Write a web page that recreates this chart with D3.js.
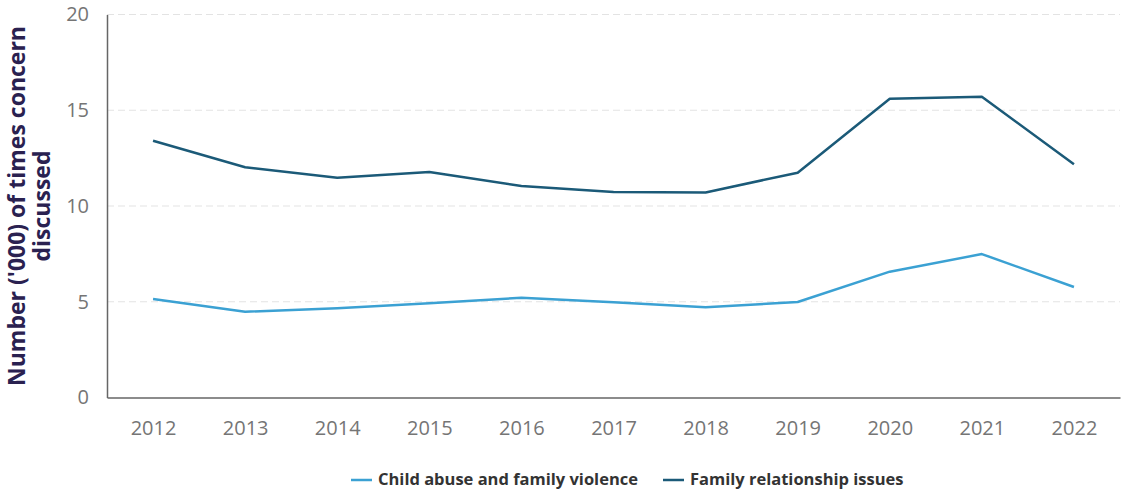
<!DOCTYPE html>
<html>
<head>
<meta charset="utf-8">
<script src="https://cdn.jsdelivr.net/npm/d3@7"></script>
<style>
  body { margin: 0; background: #fff; }
  text { font-family: "Open Sans", sans-serif; }
</style>
</head>
<body>
<svg width="1121" height="490"></svg>
<script>
var years = ["2012", "2013", "2014", "2015", "2016", "2017", "2018", "2019", "2020", "2021", "2022"];
var childAbuse = [5.14, 4.48, 4.66, 4.92, 5.21, 4.98, 4.71, 4.99, 6.57, 7.49, 5.77];
var familyRel = [13.41, 12.02, 11.48, 11.78, 11.04, 10.73, 10.71, 11.74, 15.6, 15.71, 12.18];
var yTicks = [0, 5, 10, 15, 20];
var seriesNames = ["Child abuse and family violence", "Family relationship issues"];
var colors = ["#3ba1d3", "#1b5a78"];

var svg = d3.select("svg");
var plotLeft = 107, plotRight = 1120, plotTop = 14.5, plotBottom = 397.5;

var x = d3.scalePoint()
  .domain(years)
  .range([plotLeft, plotRight])
  .padding(0.5);

var y = d3.scaleLinear()
  .domain([0, 20])
  .range([plotBottom, plotTop]);

// gridlines
svg.append("g")
  .selectAll("line")
  .data(yTicks.filter(d => d > 0))
  .enter()
  .append("line")
  .attr("x1", plotLeft)
  .attr("x2", plotRight)
  .attr("y1", d => y(d))
  .attr("y2", d => y(d))
  .attr("stroke", "#e3e3e3")
  .attr("stroke-width", 1)
  .attr("stroke-dasharray", "7,4");

// y axis
var yAxis = d3.axisLeft(y).tickValues(yTicks).tickSize(0).tickPadding(18);
var gy = svg.append("g")
  .attr("transform", "translate(" + plotLeft + ",0)")
  .call(yAxis);
gy.select(".domain").attr("stroke", "#666").attr("stroke-width", 1.5);
gy.selectAll("text")
  .attr("fill", "#757575")
  .style("font-size", "20px");

// x axis
var xAxis = d3.axisBottom(x).tickSize(0).tickPadding(23);
var gx = svg.append("g")
  .attr("transform", "translate(0," + plotBottom + ")")
  .call(xAxis);
gx.select(".domain").attr("stroke", "#666").attr("stroke-width", 1.5);
gx.selectAll("text")
  .attr("fill", "#757575")
  .style("font-size", "20px");

// lines
var line = d3.line()
  .x((d, i) => x(years[i]))
  .y(d => y(d));

[childAbuse, familyRel].forEach(function(s, i) {
  svg.append("path")
    .datum(s)
    .attr("d", line)
    .attr("fill", "none")
    .attr("stroke", colors[i])
    .attr("stroke-width", 2.5)
    .attr("stroke-linejoin", "round");
});

// y title
var title = svg.append("text")
  .attr("transform", "translate(25,206) rotate(-90)")
  .attr("text-anchor", "middle")
  .attr("fill", "#2a2150")
  .style("font-size", "23px")
  .style("font-weight", "bold");
title.append("tspan").attr("x", 0).attr("dy", 0).text("Number ('000) of times concern");
title.append("tspan").attr("x", 0).attr("dy", 25).text("discussed");

// legend
var legendX = [351, 663];
var lg = svg.append("g");
seriesNames.forEach(function(n, i) {
  lg.append("line")
    .attr("x1", legendX[i])
    .attr("x2", legendX[i] + 21)
    .attr("y1", 480)
    .attr("y2", 480)
    .attr("stroke", colors[i])
    .attr("stroke-width", 2.5);
  lg.append("text")
    .attr("x", legendX[i] + 27)
    .attr("y", 485)
    .attr("fill", "#333")
    .style("font-size", "16.5px")
    .style("font-weight", "bold")
    .text(n);
});
</script>
</body>
</html>
